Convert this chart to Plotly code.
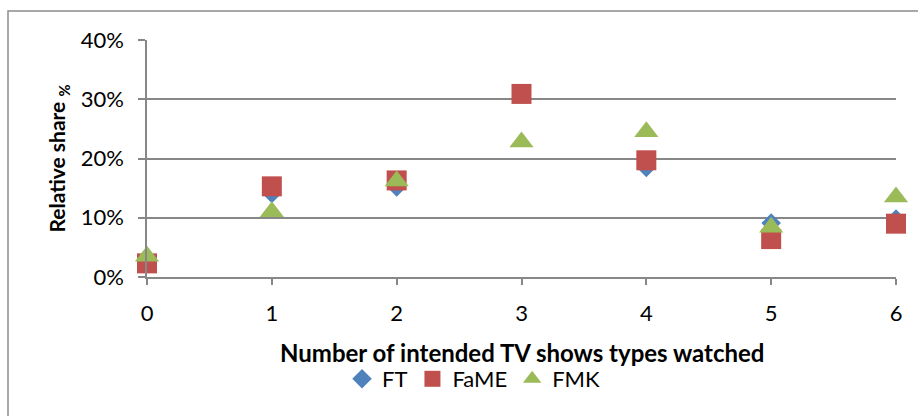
import plotly.graph_objects as go

x_vals = [0, 1, 2, 3, 4, 5, 6]
ft = [0.025, 0.141, 0.152, 0.309, 0.185, 0.091, 0.098]
fame = [0.023, 0.153, 0.163, 0.309, 0.197, 0.064, 0.090]
fmk = [0.035, 0.110, 0.162, 0.228, 0.245, 0.084, 0.135]
series_names = ["FT", "FaME", "FMK"]
y_ticks = [0, 0.1, 0.2, 0.3, 0.4]
y_tick_labels = ["0%", "10%", "20%", "30%", "40%"]
x_title = "Number of intended TV shows types watched"
y_title = "Relative share <sub>%</sub>"

FONT = "Lato, 'Open Sans', sans-serif"
GRID = "#878787"

fig = go.Figure()
fig.add_trace(go.Scatter(x=x_vals, y=ft, mode="markers", name=series_names[0],
                         marker=dict(symbol="diamond", size=15, color="#4F81BD"),
                         cliponaxis=False))
fig.add_trace(go.Scatter(x=x_vals, y=fame, mode="markers", name=series_names[1],
                         marker=dict(symbol="square", size=20, color="#C0504D"),
                         cliponaxis=False))
fig.add_trace(go.Scatter(x=x_vals, y=fmk, mode="markers", name=series_names[2],
                         marker=dict(symbol="triangle-up", size=21, color="#9BBB59"),
                         cliponaxis=False))

L, R, T, B = 147, 918 - 896, 40, 416 - 277
W, H = 918 - L - R, 416 - T - B

fig.update_layout(
    width=918, height=416,
    margin=dict(l=L, r=R, t=T, b=B, autoexpand=False),
    paper_bgcolor="white", plot_bgcolor="white",
    font=dict(family=FONT, size=20, color="black"),
    showlegend=True,
    legend=dict(orientation="h", x=474 / 918, xanchor="center", xref="container",
                y=1 - 379 / 416, yanchor="middle", yref="container",
                font=dict(size=22), itemsizing="trace", itemwidth=30,
                tracegroupgap=0, bgcolor="rgba(0,0,0,0)"),
    xaxis=dict(range=[0, 6], tickvals=x_vals, showgrid=False, zeroline=False,
               showline=True, linecolor=GRID, linewidth=1.5, automargin=False,
               ticks="outside", ticklen=6, tickcolor=GRID, tickwidth=1.5,
               tickfont=dict(size=22), ticklabelstandoff=10),
    yaxis=dict(range=[0, 0.4], tickvals=y_ticks, ticktext=y_tick_labels,
               showgrid=True, gridcolor=GRID, gridwidth=1.5, zeroline=False,
               showline=True, linecolor=GRID, linewidth=1.5, automargin=False,
               ticks="outside", ticklen=7, tickcolor=GRID, tickwidth=1.5,
               tickfont=dict(size=22), ticklabelstandoff=10,
               title=dict(text="<b>" + y_title + "</b>", font=dict(size=21), standoff=9)),
    annotations=[dict(text="<b>" + x_title + "</b>", xref="paper", x=0.5, xanchor="center",
                      yref="paper", y=(277 - 352) / H, yanchor="middle",
                      showarrow=False, font=dict(size=24))],
    shapes=[dict(type="rect", xref="paper", yref="paper",
                 x0=(8 - L) / W, x1=(930 - L) / W,
                 y0=(277 - 430) / H, y1=(277 - 11) / H,
                 line=dict(color="#8c8c8c", width=1.5), fillcolor="rgba(0,0,0,0)", layer="below")],
)

fig.write_html("out.html", config={"displayModeBar": False},
               post_script="document.body.style.margin='0';document.body.style.overflow='hidden';")
